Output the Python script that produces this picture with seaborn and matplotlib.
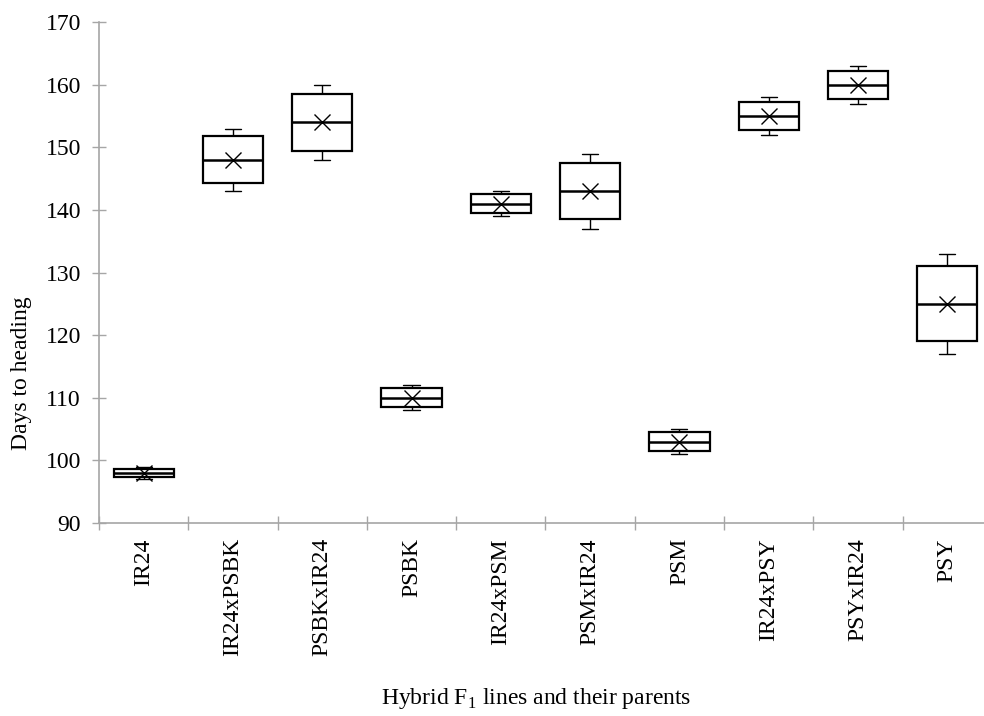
import numpy as np
import pandas as pd
import matplotlib
matplotlib.use("Agg")
import matplotlib.pyplot as plt
import seaborn as sns

# days to heading per line (min, q1, median, q3, max)
lines = ["IR24", "IR24xPSBK", "PSBKxIR24", "PSBK", "IR24xPSM",
         "PSMxIR24", "PSM", "IR24xPSY", "PSYxIR24", "PSY"]
ir24 = [97, 97.3, 98, 98.7, 99]
ir24_psbk = [143, 144.3, 148, 151.8, 153]
psbk_ir24 = [148, 149.5, 154, 158.5, 160]
psbk = [108, 108.5, 110, 111.5, 112]
ir24_psm = [139, 139.5, 141, 142.6, 143]
psm_ir24 = [137, 138.5, 143, 147.5, 149]
psm = [101, 101.5, 103, 104.5, 105]
ir24_psy = [152, 152.8, 155, 157.3, 158]
psy_ir24 = [157, 157.8, 160, 162.2, 163]
psy = [117, 119, 125, 131, 133]

y_ticks = [90, 100, 110, 120, 130, 140, 150, 160, 170]

values = [ir24, ir24_psbk, psbk_ir24, psbk, ir24_psm,
          psm_ir24, psm, ir24_psy, psy_ir24, psy]
df = pd.DataFrame({
    "line": np.repeat(lines, [len(v) for v in values]),
    "days": np.concatenate(values),
})

sns.set_theme(style="white")
plt.rcParams["font.family"] = ["Liberation Serif", "DejaVu Serif"]
plt.rcParams["mathtext.fontset"] = "custom"
plt.rcParams["mathtext.rm"] = "Liberation Serif"
plt.rcParams["text.color"] = "black"
plt.rcParams["axes.labelcolor"] = "black"

axis_grey = "#a6a6a6"
fs = 17

fig = plt.figure(figsize=(9.84, 7.16), dpi=100)
ax = fig.add_axes([0.1006, 0.2696, 0.9075, 0.6993])

sns.boxplot(data=df, x="line", y="days", order=lines, ax=ax,
            color="white", linecolor="black", width=0.675, whis=(0, 100),
            showfliers=False, showmeans=True, capwidths=0.18,
            boxprops=dict(linewidth=1.6),
            medianprops=dict(linewidth=1.8, color="black"),
            whiskerprops=dict(linewidth=1.0, color="black"),
            capprops=dict(linewidth=1.0, color="black"),
            meanprops=dict(marker="x", markeredgecolor="black",
                           markerfacecolor="black", markersize=12,
                           markeredgewidth=1.0))

ax.set_xlim(-0.5, len(lines) - 0.5)
ax.set_ylim(90, 170)
ax.set_yticks(y_ticks)

# excel style: ticks between categories, labels rotated under each box
ax.set_xticks(np.arange(len(lines)))
ax.set_xticklabels(lines, rotation=90, fontsize=fs)
ax.set_xticks(np.arange(len(lines) + 1) - 0.5, minor=True)
ax.tick_params(axis="x", which="major", length=0, pad=11, labelcolor="black")
ax.tick_params(axis="x", which="minor", direction="inout", length=10,
               width=1, color=axis_grey, bottom=True)
ax.tick_params(axis="y", direction="inout", length=10, width=1,
               color=axis_grey, labelsize=fs, pad=8, left=True,
               labelcolor="black")

for side in ["top", "right"]:
    ax.spines[side].set_visible(False)
for side in ["left", "bottom"]:
    ax.spines[side].set_color(axis_grey)
    ax.spines[side].set_linewidth(1.2)

ax.set_ylabel("Days to heading", fontsize=fs)
ax.set_xlabel("Hybrid F$_\\mathregular{1}$ lines and their parents", fontsize=fs)
ax.yaxis.set_label_coords(-0.075, 0.30)
ax.xaxis.set_label_coords(0.49, -0.325)

fig.savefig("out.png", dpi=100)
